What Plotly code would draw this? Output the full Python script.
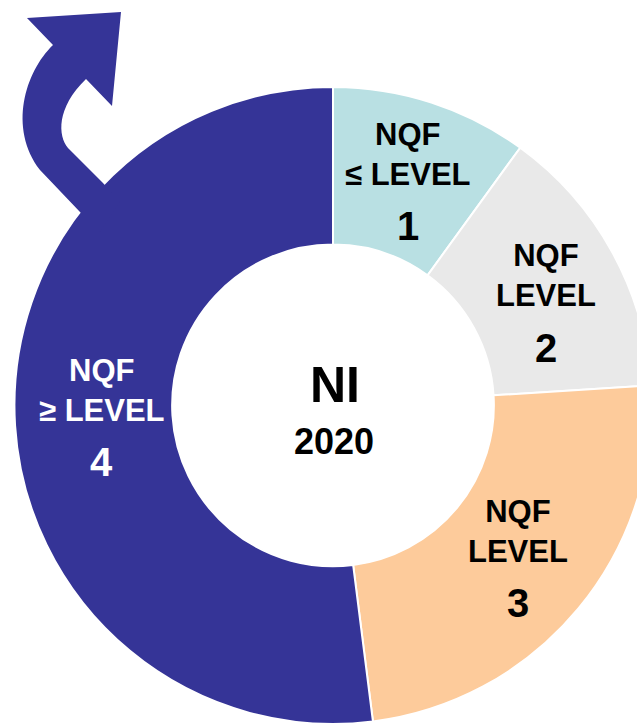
import math

import plotly.graph_objects as go

# NQF attainment, Northern Ireland 2020 (share of slices, %)
LEVELS = ["1", "2", "3", "4"]
LABEL_WORDS = ["NQF<br>≤ LEVEL", "NQF<br>LEVEL", "NQF<br>LEVEL", "NQF<br>≥ LEVEL"]
SHARES = [10, 14, 24, 52]
CENTER_TITLE = "NI"
CENTER_YEAR = "2020"

COLORS = ["#b9e0e3", "#e9e9e9", "#fdcb9b", "#353497"]
TEXT_COLORS = ["#000000", "#000000", "#000000", "#ffffff"]
# small hand nudges (px) so the labels sit where the original had them
NUDGE = [(1, 4), (3, 13), (0, 0), (8, -3)]

W, H = 666, 724
HOLE = 0.505
DOMAIN_Y = [0.0, 0.88]
FONT = "Arial, Liberation Sans, sans-serif"


def px_to_paper(x, y):
    return x / W, 1 - y / H


def pie_geometry():
    dom_h = (DOMAIN_Y[1] - DOMAIN_Y[0]) * H
    r = min(W, dom_h) / 2
    cx = W / 2
    cy = H - (DOMAIN_Y[0] * H + dom_h / 2)
    return cx, cy, r


def arrow_path():
    # curved arrow leaving the top-left of the ring (pixel coords -> paper)
    pts = [
        ("M", [(120, 202)]),
        ("L", [(103, 183)]),
        ("L", [(68, 148)]),
        ("C", [(58, 136), (56, 108), (86, 79)]),
        ("L", [(112, 106)]),
        ("L", [(121, 12)]),
        ("L", [(27, 18)]),
        ("L", [(53, 45)]),
        ("C", [(25, 72), (8, 128), (40, 170)]),
        ("L", [(80, 212)]),
        ("L", [(100, 232)]),
    ]
    out = []
    for cmd, coords in pts:
        s = " ".join("%.5f,%.5f" % px_to_paper(x, y) for x, y in coords)
        out.append(cmd + " " + s)
    return " ".join(out) + " Z"


fig = go.Figure(
    go.Pie(
        labels=["NQF level " + lv for lv in LEVELS],
        values=SHARES,
        hole=HOLE,
        sort=False,
        direction="clockwise",
        rotation=0,
        marker=dict(colors=COLORS, line=dict(color="#ffffff", width=2)),
        textinfo="none",
        hoverinfo="label+percent",
        domain=dict(x=[0, 1], y=DOMAIN_Y),
        showlegend=False,
    )
)

cx, cy, r = pie_geometry()
r_text = r * (1 + HOLE) / 2
total = sum(SHARES)
start = 0.0
annotations = []
for i, share in enumerate(SHARES):
    span = share / total * 360
    mid = math.radians(start + span / 2)
    start += span
    x = cx + r_text * math.sin(mid) + NUDGE[i][0]
    y = cy - r_text * math.cos(mid) + NUDGE[i][1]
    wx, wy = px_to_paper(x, y - 27)
    dx, dy = px_to_paper(x, y + 45)
    annotations.append(
        dict(
            x=wx, y=wy, text=LABEL_WORDS[i], showarrow=False,
            xanchor="center", yanchor="middle",
            font=dict(family=FONT, size=31, color=TEXT_COLORS[i], weight="bold"),
        )
    )
    annotations.append(
        dict(
            x=dx, y=dy, text=LEVELS[i], showarrow=False,
            xanchor="center", yanchor="middle",
            font=dict(family=FONT, size=40, color=TEXT_COLORS[i], weight="bold"),
        )
    )

tx, ty = px_to_paper(cx + 2, cy - 20)
annotations.append(
    dict(x=tx, y=ty, text=CENTER_TITLE, showarrow=False, xanchor="center", yanchor="middle",
         font=dict(family=FONT, size=50, color="#000000", weight="bold"))
)
yx, yy = px_to_paper(cx + 1, cy + 36)
annotations.append(
    dict(x=yx, y=yy, text=CENTER_YEAR, showarrow=False, xanchor="center", yanchor="middle",
         font=dict(family=FONT, size=36, color="#000000", weight="bold"))
)

fig.update_layout(
    width=W,
    height=H,
    margin=dict(l=0, r=0, t=0, b=0),
    paper_bgcolor="#ffffff",
    plot_bgcolor="#ffffff",
    annotations=annotations,
    shapes=[
        dict(type="path", xref="paper", yref="paper", path=arrow_path(),
             fillcolor=COLORS[3], line=dict(width=0), layer="above")
    ],
)

# the ring runs off the right edge like the original, so drop the page margin
# and let the window clip it instead of scrolling
fig.write_html(
    "out.html",
    config={"displayModeBar": False},
    post_script="document.body.style.margin='0';document.body.style.overflow='hidden';",
)
